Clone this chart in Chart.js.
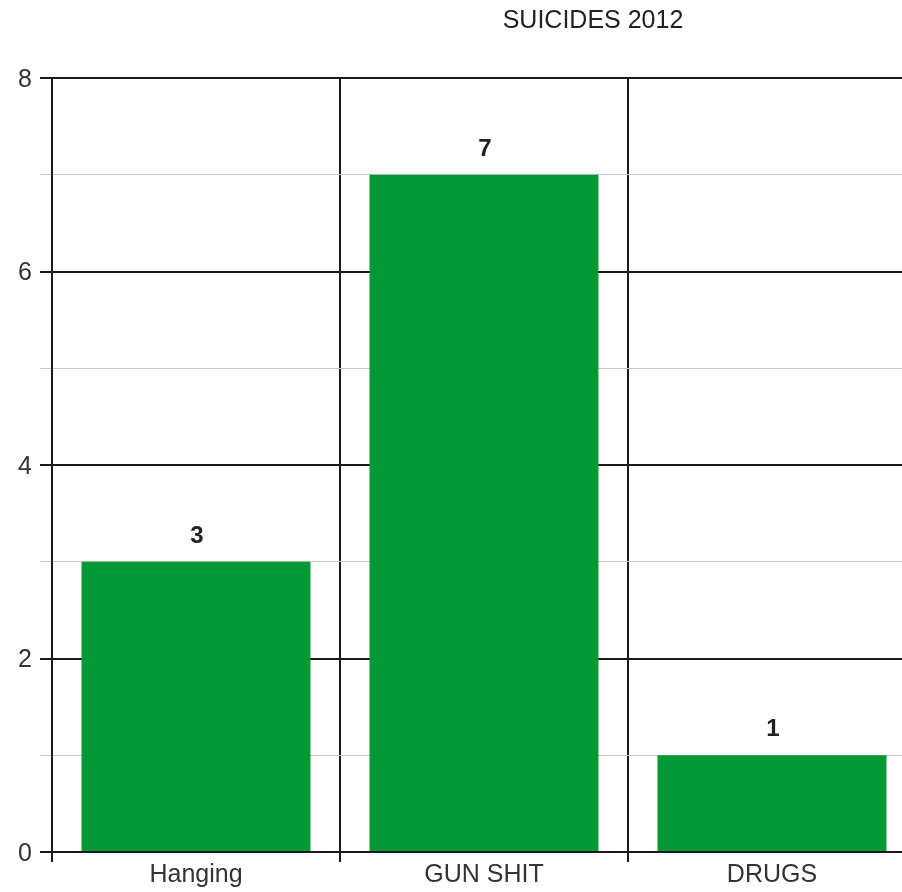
<!DOCTYPE html>
<html>
<head>
<meta charset="utf-8">
<script src="https://cdn.jsdelivr.net/npm/chart.js@4"></script>
<style>
html,body{margin:0;padding:0;background:#fff;overflow:hidden;}
#wrap{width:902px;height:892px;overflow:hidden;position:relative;}
canvas{display:block;}
</style>
</head>
<body>
<div id="wrap"><canvas id="c" width="916" height="892"></canvas></div>
<script>
const chartTitle = "SUICIDES 2012";
const categories = ["Hanging", "GUN SHIT", "DRUGS"];
const values = [3, 7, 1];
const yTickLabels = [0, 2, 4, 6, 8];

const FONT = "'Liberation Sans', Arial, sans-serif";

const titlePlugin = {
  id: 'titlePlugin',
  afterDraw(chart) {
    const ctx = chart.ctx;
    ctx.save();
    ctx.font = "25px " + FONT;
    ctx.fillStyle = "#222";
    ctx.textAlign = "center";
    ctx.textBaseline = "middle";
    ctx.fillText(chartTitle, 593, 21);
    ctx.restore();
  }
};

const valueLabels = {
  id: 'valueLabels',
  afterDatasetsDraw(chart) {
    const ctx = chart.ctx;
    const meta = chart.getDatasetMeta(0);
    ctx.save();
    ctx.font = "bold 24px " + FONT;
    ctx.fillStyle = "#222";
    ctx.textAlign = "center";
    ctx.textBaseline = "alphabetic";
    meta.data.forEach((bar, i) => {
      ctx.fillText(String(values[i]), bar.x + 1, bar.y - 19);
    });
    ctx.restore();
  }
};

new Chart(document.getElementById('c'), {
  type: 'bar',
  data: {
    labels: categories,
    datasets: [{
      data: values,
      backgroundColor: '#009933',
      borderWidth: 0,
      barPercentage: 0.795,
      categoryPercentage: 1
    }]
  },
  options: {
    responsive: false,
    animation: false,
    devicePixelRatio: 1,
    layout: { padding: { top: 78, left: 0, right: 0, bottom: 0 } },
    plugins: { legend: { display: false }, tooltip: { enabled: false }, title: { display: false } },
    scales: {
      x: {
        offset: true,
        grid: {
          offset: true,
          color: '#1a1a1a',
          lineWidth: 2,
          tickLength: 10,
          drawOnChartArea: true
        },
        border: { display: false },
        ticks: {
          font: { size: 25, family: FONT },
          color: '#333',
          padding: -2
        },
        afterFit(scale) { scale.height = 40; }
      },
      y: {
        min: 0,
        max: 8,
        grid: {
          color: (c) => (c.tick && c.tick.value % 2 === 0) ? '#1a1a1a' : '#c8c8c8',
          lineWidth: (c) => (c.tick && c.tick.value % 2 === 0) ? 2 : 1,
          tickLength: 12
        },
        border: { display: true, color: '#1a1a1a', width: 2 },
        ticks: {
          stepSize: 1,
          autoSkip: false,
          font: { size: 25, family: FONT },
          color: '#333',
          padding: 8,
          labelOffset: 2,
          callback: (v) => yTickLabels.includes(v) ? String(v) : ''
        },
        afterFit(scale) { scale.width = 52; }
      }
    }
  },
  plugins: [titlePlugin, valueLabels]
});
</script>
</body>
</html>
